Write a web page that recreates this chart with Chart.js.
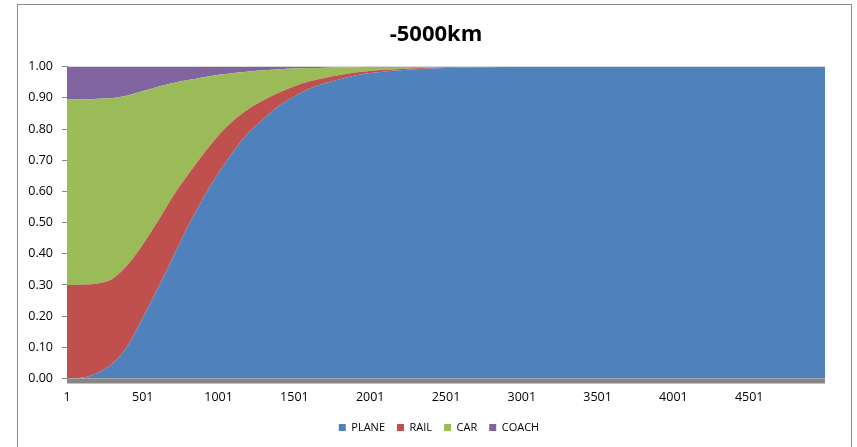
<!DOCTYPE html>
<html>
<head>
<meta charset="utf-8">
<script src="https://cdn.jsdelivr.net/npm/chart.js@4/dist/chart.umd.min.js"></script>
<style>
  html, body { margin: 0; padding: 0; background: #fff; }
  #wrap { position: relative; width: 857px; height: 447px; overflow: hidden; }
  #wrap canvas { position: absolute; left: 0; top: 0; }
  #frame {
    position: absolute; left: 17px; top: 4px; width: 835px; height: 470px;
    border: 1px solid #8c8c8c; box-sizing: border-box; pointer-events: none;
  }
</style>
</head>
<body>
<div id="wrap">
  <canvas id="modeShare" width="857" height="447"></canvas>
  <div id="frame"></div>
</div>
<script>
// Trip distance (km)
const distanceKm = [1, 101, 201, 301, 401, 501, 601, 701, 801, 901,
  1001, 1101, 1201, 1301, 1401, 1501, 1601, 1701, 1801, 1901,
  2001, 2101, 2201, 2301, 2401, 2501, 2601, 2701, 2801, 2901,
  3001, 3501, 4001, 4501, 5001];

// Share of trips by mode at each distance
const planeShare = [0.000, 0.003, 0.018, 0.048, 0.105, 0.195, 0.290, 0.390, 0.490, 0.580,
  0.660, 0.730, 0.790, 0.835, 0.875, 0.905, 0.930, 0.947, 0.960, 0.972,
  0.980, 0.985, 0.989, 0.992, 0.994, 0.996, 0.997, 0.998, 0.9985, 0.999,
  0.9995, 1, 1, 1, 1];
const railShare = [0.300, 0.298, 0.287, 0.272, 0.260, 0.235, 0.215, 0.195, 0.165, 0.140,
  0.120, 0.098, 0.075, 0.058, 0.042, 0.032, 0.023, 0.017, 0.013, 0.009,
  0.006, 0.005, 0.004, 0.003, 0.003, 0.002, 0.0015, 0.001, 0.0008, 0.0006,
  0.0003, 0, 0, 0, 0];
const carShare = [0.595, 0.594, 0.592, 0.580, 0.543, 0.492, 0.431, 0.363, 0.302, 0.246,
  0.194, 0.152, 0.120, 0.096, 0.075, 0.057, 0.043, 0.033, 0.025, 0.0175,
  0.013, 0.0093, 0.0065, 0.0047, 0.0028, 0.0019, 0.0015, 0.001, 0.0007, 0.0004,
  0.0002, 0, 0, 0, 0];
const coachShare = [0.105, 0.105, 0.103, 0.100, 0.092, 0.078, 0.064, 0.052, 0.043, 0.034,
  0.026, 0.020, 0.015, 0.011, 0.008, 0.006, 0.004, 0.003, 0.002, 0.0015,
  0.001, 0.0007, 0.0005, 0.0003, 0.0002, 0.0001, 0, 0, 0, 0,
  0, 0, 0, 0, 0];

const xTickValues = [1, 501, 1001, 1501, 2001, 2501, 3001, 3501, 4001, 4501];

const seriesNames = ['PLANE', 'RAIL', 'CAR', 'COACH'];
const seriesColors = ['#4F81BD', '#C0504D', '#9BBB59', '#8064A2'];
const seriesValues = [planeShare, railShare, carShare, coachShare];

const FONT = "'Open Sans', 'DejaVu Sans', sans-serif";

// Grey floor strip beneath the zero line
const floorStrip = {
  id: 'floorStrip',
  afterDatasetsDraw(chart) {
    const { ctx, chartArea, scales } = chart;
    const y0 = scales.y.getPixelForValue(0);
    ctx.save();
    ctx.fillStyle = '#868686';
    ctx.fillRect(chartArea.left, y0, chartArea.right - chartArea.left, 5);
    ctx.restore();
  }
};

// Centre the title and legend on the outer frame rather than the padded box
const frameCentre = {
  id: 'frameCentre',
  afterLayout(chart) {
    const shift = (box, dx) => { if (box) { box.left += dx; box.right += dx; } };
    shift(chart.titleBlock, 15);
    shift(chart.legend, 18);
  }
};

const datasets = seriesNames.map((name, i) => ({
  label: name,
  data: distanceKm.map((d, j) => ({ x: d, y: seriesValues[i][j] })),
  backgroundColor: seriesColors[i],
  borderColor: seriesColors[i],
  borderWidth: 0,
  pointRadius: 0,
  pointHoverRadius: 0,
  fill: i === 0 ? 'origin' : '-1',
  cubicInterpolationMode: 'monotone'
}));

new Chart(document.getElementById('modeShare'), {
  type: 'line',
  data: { datasets },
  plugins: [floorStrip, frameCentre],
  options: {
    responsive: false,
    animation: false,
    devicePixelRatio: 1,
    events: [],
    layout: { padding: { top: 4, left: 17, right: 32, bottom: 4 } },
    plugins: {
      title: {
        display: true,
        text: '-5000km',
        color: '#000',
        font: { family: FONT, size: 22, weight: 'bold' },
        padding: { top: 17.8, bottom: 18.5 }
      },
      legend: {
        position: 'bottom',
        labels: {
          color: '#000',
          font: { family: FONT, size: 11 },
          boxWidth: 7,
          boxHeight: 7,
          padding: 12
        }
      },
      tooltip: { enabled: false }
    },
    scales: {
      x: {
        type: 'linear',
        min: 1,
        max: 5001,
        afterBuildTicks: (scale) => { scale.ticks = xTickValues.map(v => ({ value: v })); },
        afterFit: (scale) => { scale.height = 31.5; },
        grid: { display: false, drawTicks: false },
        border: { display: false },
        ticks: {
          color: '#000',
          font: { family: FONT, size: 12.5 },
          padding: 11.5,
          maxRotation: 0,
          autoSkip: false,
          callback: (v) => String(v)
        }
      },
      y: {
        stacked: true,
        min: 0,
        max: 1,
        afterFit: (scale) => { scale.width = 50; },
        grid: { color: '#d9d9d9', tickColor: '#868686', tickLength: 5, drawTicks: true },
        border: { display: true, color: '#868686', width: 1 },
        ticks: {
          stepSize: 0.1,
          color: '#000',
          font: { family: FONT, size: 12.5 },
          padding: 9,
          callback: (v) => Number(v).toFixed(2)
        }
      }
    }
  }
});
</script>
</body>
</html>
